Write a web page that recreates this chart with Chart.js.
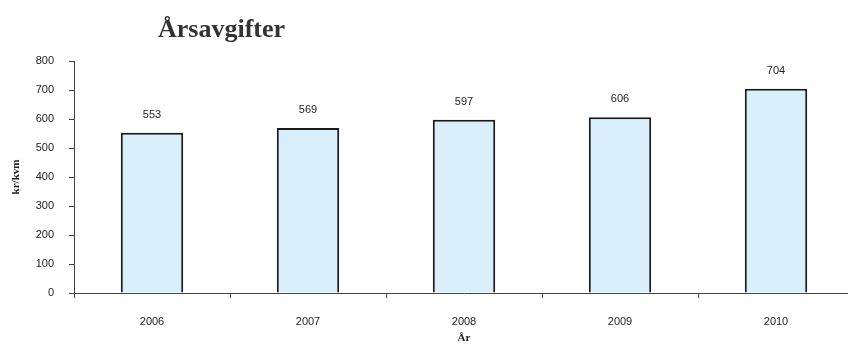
<!DOCTYPE html>
<html>
<head>
<meta charset="utf-8">
<script src="https://cdn.jsdelivr.net/npm/chart.js@4/dist/chart.umd.min.js"></script>
<style>
  html, body { margin: 0; padding: 0; background: #fff; overflow: hidden; }
  #wrap { position: relative; width: 860px; height: 345px; }
</style>
</head>
<body>
<div id="wrap"><canvas id="c" width="860" height="345"></canvas></div>
<script>
// Annual fees per square metre
const years = ['2006', '2007', '2008', '2009', '2010'];
const fees = [553, 569, 597, 606, 704];
const yTicks = [0, 100, 200, 300, 400, 500, 600, 700, 800];

const chartTitle = 'Årsavgifter';
const yTitle = 'kr/kvm';
const xTitle = 'År';

// Value labels above each bar plus the heading
const annotate = {
  id: 'annotate',
  afterDatasetsDraw(chart) {
    const ctx = chart.ctx;
    const meta = chart.getDatasetMeta(0);
    ctx.save();
    ctx.fillStyle = '#222';
    ctx.font = '11px "Liberation Sans", Arial, sans-serif';
    ctx.textAlign = 'center';
    ctx.textBaseline = 'middle';
    meta.data.forEach((bar, i) => {
      ctx.fillText(String(fees[i]), bar.x, bar.y - 18);
    });
    ctx.font = 'bold 26px "Liberation Serif", "Times New Roman", serif';
    ctx.fillStyle = '#333';
    ctx.textAlign = 'left';
    ctx.fillText(chartTitle, 158, 30);
    ctx.restore();
  }
};

new Chart(document.getElementById('c'), {
  type: 'bar',
  data: {
    labels: years,
    datasets: [{
      data: fees,
      backgroundColor: '#d9eefb',
      borderColor: '#1a1a1a',
      borderWidth: 2,
      borderSkipped: 'bottom',
      barPercentage: 0.8,
      categoryPercentage: 0.5
    }]
  },
  options: {
    responsive: false,
    animation: false,
    layout: { padding: { top: 61, right: 6, left: 0, bottom: 0 } },
    plugins: {
      legend: { display: false },
      tooltip: { enabled: false }
    },
    scales: {
      x: {
        offset: true,
        grid: {
          offset: true,
          drawOnChartArea: false,
          drawTicks: true,
          tickLength: 5,
          color: '#444'
        },
        border: { display: true, color: '#444', width: 1 },
        ticks: {
          color: '#222',
          font: { family: '"Liberation Sans", Arial, sans-serif', size: 11 },
          padding: 17
        },
        title: {
          display: true,
          text: xTitle,
          color: '#222',
          font: { family: '"Liberation Serif", "Times New Roman", serif', size: 11, weight: 'bold' },
          padding: { top: 0, bottom: 0 }
        },
        afterFit(s) { s.height = 52; }
      },
      y: {
        min: 0,
        max: 800,
        afterBuildTicks(s) { s.ticks = yTicks.map(v => ({ value: v })); },
        grid: {
          drawOnChartArea: false,
          drawTicks: true,
          tickLength: 5,
          color: '#444'
        },
        border: { display: true, color: '#444', width: 1 },
        ticks: {
          color: '#222',
          font: { family: '"Liberation Sans", Arial, sans-serif', size: 11 },
          padding: 15
        },
        title: {
          display: true,
          text: yTitle,
          color: '#222',
          font: { family: '"Liberation Serif", "Times New Roman", serif', size: 11, weight: 'bold' },
          padding: { top: 10, bottom: 0 }
        },
        afterFit(s) { s.width = 74; }
      }
    }
  },
  plugins: [annotate]
});
</script>
</body>
</html>
